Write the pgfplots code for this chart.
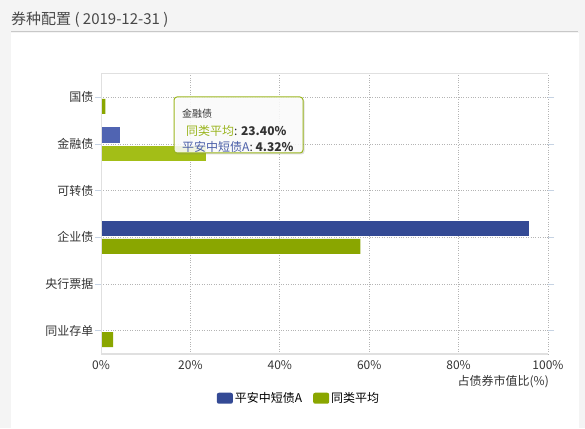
\documentclass[border=0pt]{standalone}
\usepackage{fontspec}
\setmainfont{Noto Sans CJK SC}
\usepackage{pgfplots}
\pgfplotsset{compat=1.18}
\usetikzlibrary{shadows}
\definecolor{pagebg}{HTML}{F4F4F4}
\definecolor{titleline}{HTML}{C8C8C8}
\definecolor{textc}{HTML}{333333}
\definecolor{gridc}{HTML}{B4B4B4}
\definecolor{axc}{HTML}{E0E0E0}
\definecolor{tickc}{HTML}{C6D3E3}
\definecolor{fundblue}{HTML}{344A95}
\definecolor{avggreen}{HTML}{8AA600}
\definecolor{fundblueh}{HTML}{5064B2}
\definecolor{avggreenh}{HTML}{A3BE17}
\definecolor{tipgreen}{HTML}{9AB51E}
\definecolor{tipblue}{HTML}{4A5EA8}

\begin{document}
\begin{tikzpicture}[x=1pt,y=1pt]
  % page and panel
  \fill[pagebg] (0,0) rectangle (585,428);
  \fill[white] (11,0) rectangle (579,395);
  \draw[titleline, line width=1.2pt] (11,396.5) -- (578,396.5);
  \node[anchor=west, inner sep=0pt, text=textc!90!white,
        font=\fontsize{15}{17}\selectfont] at (11,408) {券种配置 ( 2019-12-31 )};

  \begin{axis}[
      at={(101pt,74pt)}, anchor=south west,
      scale only axis, width=447pt, height=280pt,
      xbar, bar width=15pt,
      xmin=0, xmax=100, ymin=-0.5, ymax=5.5,
      xtick={0,20,40,60,80,100},
      xticklabels={0\%,20\%,40\%,60\%,80\%,100\%},
      ytick={0,1,2,3,4,5},
      yticklabels={同业存单,央行票据,企业债,可转债,金融债,国债},
      grid=major,
      grid style={gridc, dotted, line width=0.8pt},
      axis line style={draw=none},
      tick align=outside, major tick length=6pt,
      xtick style={draw=none},
      ytick style={draw=tickc, line width=1pt},
      tick label style={font=\fontsize{12}{14}\selectfont, text=textc},
      yticklabel style={xshift=2pt},
      xticklabel style={yshift=3pt},
      legend columns=2,
      legend style={at={(axis description cs:0.443,-0.158)}, anchor=center,
        draw=none, fill=none, font=\fontsize{12}{14}\selectfont,
        /tikz/every even column/.append style={column sep=9pt}},
      legend image code/.code={\fill[#1, rounded corners=2pt] (0pt,-5.5pt) rectangle (16pt,5.5pt);},
    ]
    \addplot[fill=fundblue, draw=none, bar shift=9pt] coordinates {
      (95.8,2)
    };
    \addplot[fill=avggreen, draw=none, bar shift=-9pt] coordinates {
      (1.0,5) (58.0,2) (2.7,0)
    };
    % hovered category
    \addplot[fill=fundblueh, draw=none, bar shift=9pt, forget plot] coordinates {
      (4.32,4)
    };
    \addplot[fill=avggreenh, draw=none, bar shift=-9pt, forget plot] coordinates {
      (23.40,4)
    };
    \legend{平安中短债A, 同类平均}
    \draw[axc, line width=1pt] (axis cs:0,-0.5) -- (axis cs:0,5.5);
    \draw[axc, line width=1.2pt] (axis cs:0,-0.5) -- (axis cs:100,-0.5);
    \draw[axc, line width=1pt] (axis cs:0,5.5) -- (axis cs:100,5.5);
  \end{axis}

  \node[anchor=east, inner sep=0pt, text=textc,
        font=\fontsize{12}{14}\selectfont] at (549,46) {占债券市值比(\%)};

  % tooltip
  \draw[tipgreen, line width=1pt, rounded corners=3pt, fill=white, fill opacity=0.85,
        drop shadow={opacity=0.25, shadow xshift=1.5pt, shadow yshift=-1.5pt}]
        (174,331) rectangle (303,275);
  \node[anchor=west, inner sep=0pt, text=textc, font=\fontsize{10}{12}\selectfont]
        at (182,314) {金融债};
  \node[anchor=west, inner sep=0pt, text=textc, font=\fontsize{12}{14}\selectfont]
        at (186,297) {\textcolor{tipgreen}{同类平均}: \textbf{23.40\%}};
  \node[anchor=west, inner sep=0pt, text=textc, font=\fontsize{12}{14}\selectfont]
        at (182,281) {\textcolor{tipblue}{平安中短债A}: \textbf{4.32\%}};
\end{tikzpicture}
\end{document}
